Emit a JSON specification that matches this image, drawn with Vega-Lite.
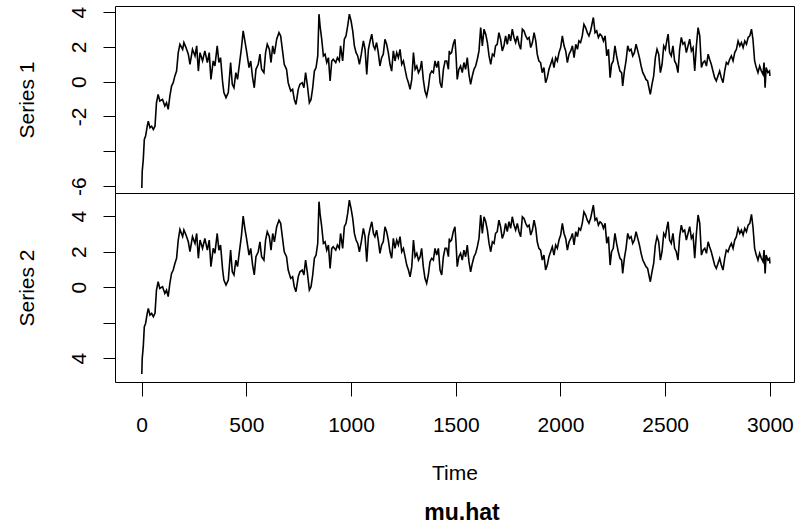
{
  "$schema": "https://vega.github.io/schema/vega-lite/v6.json",
  "autosize": {"type": "pad"},
  "padding": {"left": 15, "top": 5, "right": 10, "bottom": 0},
  "background": "white",
  "spacing": 0,
  "bounds": "flush",
  "title": {"text": "mu.hat", "orient": "bottom", "anchor": "middle", "font": "Liberation Sans", "fontSize": 23, "fontWeight": "bold", "color": "#000", "baseline": "alphabetic", "offset": 36, "dx": 57},
  "datasets": {
    "mu": [
      {"t":1,"s1":-6.11,"s2":-4.9},{"t":3,"s1":-5.15,"s2":-4.02},{"t":8,"s1":-4.48,"s2":-3.36},{"t":13,"s1":-3.32,"s2":-2.23},{"t":19,"s1":-3.13,"s2":-2.05},{"t":27,"s1":-2.56,"s2":-1.48},{"t":32,"s1":-2.27,"s2":-1.2},{"t":40,"s1":-2.65,"s2":-1.58},{"t":48,"s1":-2.56,"s2":-1.48},{"t":56,"s1":-2.75,"s2":-1.67},
      {"t":64,"s1":-2.56,"s2":-1.48},{"t":71,"s1":-1.21,"s2":-0.17},{"t":79,"s1":-0.73,"s2":0.3},{"t":87,"s1":-1.11,"s2":-0.08},{"t":100,"s1":-1.02,"s2":0.02},{"t":111,"s1":-1.4,"s2":-0.36},{"t":119,"s1":-1.21,"s2":-0.17},{"t":127,"s1":-1.59,"s2":-0.54},{"t":135,"s1":-0.83,"s2":0.21},{"t":143,"s1":-0.25,"s2":0.77},
      {"t":151,"s1":-0.06,"s2":0.96},{"t":159,"s1":0.33,"s2":1.33},{"t":167,"s1":0.61,"s2":1.62},{"t":175,"s1":1.67,"s2":2.65},{"t":183,"s1":2.15,"s2":3.25},{"t":196,"s1":1.86,"s2":2.84},{"t":202,"s1":2.25,"s2":3.21},{"t":212,"s1":1.96,"s2":2.93},{"t":223,"s1":1.58,"s2":2.55},{"t":231,"s1":1.0,"s2":1.99},
      {"t":243,"s1":1.86,"s2":2.84},{"t":255,"s1":1.48,"s2":2.46},{"t":263,"s1":2.06,"s2":3.02},{"t":271,"s1":0.61,"s2":1.62},{"t":279,"s1":1.67,"s2":2.65},{"t":291,"s1":1.19,"s2":2.18},{"t":302,"s1":1.77,"s2":2.74},{"t":314,"s1":1.1,"s2":2.08},{"t":323,"s1":1.67,"s2":2.65},{"t":331,"s1":0.13,"s2":1.15},
      {"t":342,"s1":1.19,"s2":2.18},{"t":350,"s1":0.9,"s2":1.9},{"t":361,"s1":2.06,"s2":3.02},{"t":369,"s1":1.1,"s2":2.08},{"t":377,"s1":1.38,"s2":2.37},{"t":387,"s1":-0.06,"s2":0.96},{"t":393,"s1":-0.63,"s2":0.39},{"t":403,"s1":-0.92,"s2":0.11},{"t":414,"s1":-0.63,"s2":0.39},{"t":425,"s1":1.1,"s2":2.08},
      {"t":433,"s1":-0.15,"s2":0.86},{"t":441,"s1":-0.35,"s2":0.68},{"t":450,"s1":0.52,"s2":1.52},{"t":458,"s1":0.13,"s2":1.15},{"t":466,"s1":0.9,"s2":1.9},{"t":477,"s1":1.96,"s2":2.93},{"t":485,"s1":2.92,"s2":4.0},{"t":493,"s1":2.34,"s2":3.31},{"t":501,"s1":1.77,"s2":2.74},{"t":513,"s1":0.81,"s2":1.8},
      {"t":521,"s1":1.19,"s2":2.18},{"t":530,"s1":0.23,"s2":1.24},{"t":538,"s1":-0.35,"s2":0.68},{"t":546,"s1":0.71,"s2":1.71},{"t":557,"s1":1.0,"s2":1.99},{"t":565,"s1":1.58,"s2":2.55},{"t":573,"s1":0.71,"s2":1.71},{"t":584,"s1":0.52,"s2":1.52},{"t":592,"s1":1.67,"s2":2.65},{"t":600,"s1":2.15,"s2":3.12},
      {"t":610,"s1":1.86,"s2":2.84},{"t":618,"s1":1.1,"s2":2.08},{"t":626,"s1":2.06,"s2":3.02},{"t":634,"s1":1.58,"s2":2.55},{"t":645,"s1":2.44,"s2":3.4},{"t":656,"s1":2.82,"s2":3.77},{"t":664,"s1":2.63,"s2":3.59},{"t":673,"s1":1.77,"s2":2.74},{"t":681,"s1":1.0,"s2":1.99},{"t":692,"s1":0.71,"s2":1.71},
      {"t":700,"s1":-0.06,"s2":0.96},{"t":712,"s1":-0.54,"s2":0.49},{"t":721,"s1":-0.44,"s2":0.58},{"t":729,"s1":-1.02,"s2":0.02},{"t":737,"s1":-1.31,"s2":-0.26},{"t":748,"s1":-0.44,"s2":0.58},{"t":756,"s1":-0.15,"s2":0.86},{"t":767,"s1":-0.06,"s2":0.96},{"t":775,"s1":-0.35,"s2":0.68},{"t":783,"s1":0.52,"s2":1.52},
      {"t":791,"s1":-0.15,"s2":0.86},{"t":801,"s1":-1.21,"s2":-0.17},{"t":809,"s1":-1.02,"s2":0.02},{"t":817,"s1":-0.35,"s2":0.68},{"t":825,"s1":0.61,"s2":1.62},{"t":833,"s1":0.81,"s2":1.8},{"t":841,"s1":1.48,"s2":2.46},{"t":847,"s1":3.88,"s2":4.81},{"t":852,"s1":3.21,"s2":4.15},{"t":860,"s1":2.44,"s2":3.4},
      {"t":868,"s1":1.48,"s2":2.46},{"t":876,"s1":1.58,"s2":2.55},{"t":884,"s1":1.1,"s2":2.08},{"t":892,"s1":1.38,"s2":2.37},{"t":900,"s1":0.04,"s2":1.05},{"t":908,"s1":1.19,"s2":2.18},{"t":915,"s1":1.29,"s2":2.27},{"t":927,"s1":1.1,"s2":2.08},{"t":935,"s1":1.38,"s2":2.37},{"t":944,"s1":1.19,"s2":2.18},
      {"t":950,"s1":2.06,"s2":3.02},{"t":960,"s1":1.19,"s2":2.18},{"t":968,"s1":2.44,"s2":3.4},{"t":976,"s1":2.63,"s2":3.59},{"t":984,"s1":3.21,"s2":4.15},{"t":992,"s1":3.88,"s2":4.9},{"t":1000,"s1":3.5,"s2":4.43},{"t":1008,"s1":2.92,"s2":3.87},{"t":1016,"s1":2.06,"s2":3.02},{"t":1024,"s1":1.67,"s2":2.65},
      {"t":1032,"s1":1.48,"s2":2.46},{"t":1040,"s1":1.0,"s2":1.99},{"t":1049,"s1":1.58,"s2":2.55},{"t":1059,"s1":2.34,"s2":3.31},{"t":1067,"s1":1.86,"s2":2.84},{"t":1075,"s1":0.42,"s2":1.43},{"t":1083,"s1":1.86,"s2":2.84},{"t":1091,"s1":2.34,"s2":3.31},{"t":1099,"s1":2.73,"s2":3.68},{"t":1107,"s1":2.06,"s2":3.02},
      {"t":1114,"s1":1.86,"s2":2.84},{"t":1122,"s1":2.25,"s2":3.21},{"t":1130,"s1":1.67,"s2":2.65},{"t":1138,"s1":0.9,"s2":1.9},{"t":1146,"s1":1.38,"s2":2.37},{"t":1154,"s1":1.58,"s2":2.55},{"t":1162,"s1":2.44,"s2":3.4},{"t":1170,"s1":2.15,"s2":3.12},{"t":1178,"s1":1.67,"s2":2.65},{"t":1186,"s1":1.0,"s2":1.99},
      {"t":1194,"s1":0.61,"s2":1.62},{"t":1202,"s1":1.77,"s2":2.74},{"t":1210,"s1":1.19,"s2":2.18},{"t":1218,"s1":1.67,"s2":2.65},{"t":1226,"s1":1.38,"s2":2.37},{"t":1234,"s1":1.86,"s2":2.84},{"t":1242,"s1":1.0,"s2":1.99},{"t":1250,"s1":1.19,"s2":2.18},{"t":1258,"s1":0.71,"s2":1.71},{"t":1266,"s1":0.23,"s2":1.24},
      {"t":1274,"s1":-0.06,"s2":0.96},{"t":1282,"s1":-0.44,"s2":0.58},{"t":1290,"s1":0.13,"s2":1.15},{"t":1298,"s1":1.67,"s2":2.65},{"t":1306,"s1":0.71,"s2":1.71},{"t":1314,"s1":0.9,"s2":1.9},{"t":1322,"s1":0.52,"s2":1.52},{"t":1330,"s1":0.71,"s2":1.71},{"t":1337,"s1":1.19,"s2":2.18},{"t":1345,"s1":0.13,"s2":1.15},
      {"t":1353,"s1":-0.54,"s2":0.49},{"t":1361,"s1":-0.83,"s2":0.21},{"t":1369,"s1":-0.35,"s2":0.68},{"t":1377,"s1":0.42,"s2":1.43},{"t":1385,"s1":0.61,"s2":1.62},{"t":1393,"s1":0.52,"s2":1.52},{"t":1401,"s1":1.19,"s2":2.18},{"t":1409,"s1":0.81,"s2":1.8},{"t":1417,"s1":1.19,"s2":2.18},{"t":1425,"s1":-0.06,"s2":0.96},
      {"t":1433,"s1":-0.35,"s2":0.68},{"t":1441,"s1":0.71,"s2":1.71},{"t":1449,"s1":1.19,"s2":2.18},{"t":1457,"s1":1.19,"s2":2.18},{"t":1465,"s1":0.71,"s2":1.71},{"t":1469,"s1":1.77,"s2":2.74},{"t":1472,"s1":1.58,"s2":2.55},{"t":1480,"s1":1.67,"s2":2.65},{"t":1488,"s1":2.15,"s2":3.12},{"t":1496,"s1":2.44,"s2":3.4},
      {"t":1501,"s1":1.58,"s2":2.55},{"t":1507,"s1":0.13,"s2":1.15},{"t":1515,"s1":0.71,"s2":1.71},{"t":1523,"s1":0.9,"s2":1.9},{"t":1531,"s1":0.52,"s2":1.52},{"t":1539,"s1":1.1,"s2":2.08},{"t":1547,"s1":0.71,"s2":1.71},{"t":1555,"s1":1.38,"s2":2.37},{"t":1563,"s1":0.42,"s2":1.43},{"t":1571,"s1":-0.15,"s2":0.86},
      {"t":1579,"s1":0.33,"s2":1.33},{"t":1587,"s1":0.71,"s2":1.71},{"t":1595,"s1":0.9,"s2":1.9},{"t":1603,"s1":1.29,"s2":2.27},{"t":1611,"s1":1.77,"s2":2.74},{"t":1619,"s1":3.11,"s2":4.06},{"t":1627,"s1":2.06,"s2":3.02},{"t":1635,"s1":3.02,"s2":3.96},{"t":1643,"s1":2.73,"s2":3.68},{"t":1651,"s1":2.25,"s2":3.21},
      {"t":1659,"s1":1.48,"s2":2.46},{"t":1667,"s1":1.0,"s2":1.99},{"t":1675,"s1":1.58,"s2":2.55},{"t":1683,"s1":1.48,"s2":2.46},{"t":1690,"s1":2.06,"s2":3.02},{"t":1698,"s1":2.15,"s2":3.12},{"t":1706,"s1":2.82,"s2":3.77},{"t":1714,"s1":2.44,"s2":3.4},{"t":1722,"s1":1.77,"s2":2.74},{"t":1730,"s1":2.06,"s2":3.02},
      {"t":1738,"s1":2.63,"s2":3.59},{"t":1746,"s1":2.15,"s2":3.12},{"t":1754,"s1":2.73,"s2":3.68},{"t":1762,"s1":2.34,"s2":3.31},{"t":1770,"s1":3.02,"s2":3.96},{"t":1778,"s1":2.54,"s2":3.49},{"t":1786,"s1":2.25,"s2":3.21},{"t":1794,"s1":2.63,"s2":3.59},{"t":1802,"s1":2.15,"s2":3.12},{"t":1810,"s1":1.86,"s2":2.84},
      {"t":1818,"s1":3.02,"s2":3.96},{"t":1826,"s1":2.92,"s2":3.87},{"t":1834,"s1":2.63,"s2":3.59},{"t":1842,"s1":2.44,"s2":3.4},{"t":1850,"s1":2.54,"s2":3.49},{"t":1858,"s1":1.96,"s2":2.93},{"t":1866,"s1":2.25,"s2":3.21},{"t":1874,"s1":2.82,"s2":3.77},{"t":1882,"s1":2.34,"s2":3.31},{"t":1889,"s1":1.58,"s2":2.55},
      {"t":1897,"s1":1.19,"s2":2.18},{"t":1905,"s1":1.1,"s2":2.08},{"t":1913,"s1":0.52,"s2":1.52},{"t":1921,"s1":0.81,"s2":1.8},{"t":1929,"s1":-0.06,"s2":0.96},{"t":1937,"s1":0.23,"s2":1.24},{"t":1945,"s1":0.71,"s2":1.71},{"t":1953,"s1":1.0,"s2":1.99},{"t":1961,"s1":1.29,"s2":2.27},{"t":1969,"s1":0.81,"s2":1.8},
      {"t":1977,"s1":1.38,"s2":2.37},{"t":1985,"s1":1.19,"s2":2.18},{"t":1993,"s1":1.67,"s2":2.65},{"t":2001,"s1":1.96,"s2":2.93},{"t":2009,"s1":2.63,"s2":3.59},{"t":2017,"s1":2.06,"s2":3.02},{"t":2025,"s1":1.77,"s2":2.74},{"t":2033,"s1":1.1,"s2":2.08},{"t":2041,"s1":1.58,"s2":2.55},{"t":2049,"s1":1.77,"s2":2.74},
      {"t":2057,"s1":2.06,"s2":3.02},{"t":2065,"s1":1.38,"s2":2.37},{"t":2073,"s1":2.15,"s2":3.12},{"t":2081,"s1":1.86,"s2":2.84},{"t":2088,"s1":2.34,"s2":3.31},{"t":2096,"s1":2.25,"s2":3.21},{"t":2104,"s1":2.63,"s2":3.59},{"t":2112,"s1":3.3,"s2":4.24},{"t":2120,"s1":3.11,"s2":4.06},{"t":2128,"s1":2.82,"s2":3.77},
      {"t":2136,"s1":2.63,"s2":3.59},{"t":2144,"s1":2.92,"s2":3.87},{"t":2152,"s1":3.4,"s2":4.34},{"t":2157,"s1":3.69,"s2":4.62},{"t":2165,"s1":2.82,"s2":3.77},{"t":2173,"s1":2.92,"s2":3.87},{"t":2181,"s1":2.54,"s2":3.49},{"t":2189,"s1":2.73,"s2":3.68},{"t":2197,"s1":2.63,"s2":3.59},{"t":2205,"s1":2.34,"s2":3.31},
      {"t":2213,"s1":2.63,"s2":3.59},{"t":2221,"s1":1.48,"s2":2.46},{"t":2229,"s1":1.86,"s2":2.84},{"t":2237,"s1":0.23,"s2":1.24},{"t":2244,"s1":1.0,"s2":1.99},{"t":2252,"s1":1.19,"s2":2.18},{"t":2260,"s1":2.06,"s2":3.02},{"t":2268,"s1":1.48,"s2":2.46},{"t":2276,"s1":1.0,"s2":1.99},{"t":2284,"s1":0.61,"s2":1.62},
      {"t":2292,"s1":0.52,"s2":1.52},{"t":2297,"s1":-0.25,"s2":0.77},{"t":2305,"s1":0.61,"s2":1.62},{"t":2313,"s1":1.19,"s2":2.18},{"t":2321,"s1":2.06,"s2":3.02},{"t":2329,"s1":1.77,"s2":2.74},{"t":2337,"s1":1.86,"s2":2.84},{"t":2345,"s1":1.48,"s2":2.46},{"t":2353,"s1":1.67,"s2":2.65},{"t":2361,"s1":2.15,"s2":3.12},
      {"t":2369,"s1":1.77,"s2":2.74},{"t":2377,"s1":1.38,"s2":2.37},{"t":2385,"s1":0.9,"s2":1.9},{"t":2393,"s1":0.52,"s2":1.52},{"t":2401,"s1":0.33,"s2":1.33},{"t":2408,"s1":0.13,"s2":1.15},{"t":2416,"s1":0.04,"s2":1.05},{"t":2424,"s1":-0.44,"s2":0.58},{"t":2429,"s1":-0.73,"s2":0.3},{"t":2437,"s1":-0.15,"s2":0.86},
      {"t":2445,"s1":0.33,"s2":1.33},{"t":2453,"s1":1.38,"s2":2.37},{"t":2461,"s1":1.86,"s2":2.84},{"t":2469,"s1":1.58,"s2":2.55},{"t":2477,"s1":0.52,"s2":1.52},{"t":2485,"s1":1.0,"s2":1.99},{"t":2493,"s1":2.06,"s2":3.02},{"t":2501,"s1":1.86,"s2":2.84},{"t":2509,"s1":2.44,"s2":3.4},{"t":2514,"s1":2.73,"s2":3.68},
      {"t":2521,"s1":1.67,"s2":2.65},{"t":2529,"s1":1.48,"s2":2.46},{"t":2537,"s1":2.06,"s2":3.02},{"t":2545,"s1":1.19,"s2":2.18},{"t":2553,"s1":1.0,"s2":1.99},{"t":2561,"s1":0.52,"s2":1.52},{"t":2569,"s1":1.86,"s2":2.84},{"t":2577,"s1":2.54,"s2":3.49},{"t":2585,"s1":2.15,"s2":3.12},{"t":2593,"s1":2.25,"s2":3.21},
      {"t":2601,"s1":1.67,"s2":2.65},{"t":2609,"s1":2.06,"s2":3.02},{"t":2617,"s1":2.44,"s2":3.4},{"t":2625,"s1":1.77,"s2":2.74},{"t":2633,"s1":1.96,"s2":2.93},{"t":2641,"s1":0.61,"s2":1.62},{"t":2649,"s1":2.06,"s2":3.02},{"t":2657,"s1":3.11,"s2":4.06},{"t":2665,"s1":2.63,"s2":3.59},{"t":2673,"s1":0.81,"s2":1.8},
      {"t":2681,"s1":1.1,"s2":2.08},{"t":2689,"s1":1.19,"s2":2.18},{"t":2697,"s1":0.9,"s2":1.9},{"t":2705,"s1":1.58,"s2":2.55},{"t":2712,"s1":1.29,"s2":2.27},{"t":2720,"s1":1.0,"s2":1.99},{"t":2728,"s1":0.61,"s2":1.62},{"t":2736,"s1":0.23,"s2":1.24},{"t":2744,"s1":0.04,"s2":1.05},{"t":2752,"s1":0.33,"s2":1.33},
      {"t":2760,"s1":0.61,"s2":1.62},{"t":2768,"s1":0.23,"s2":1.24},{"t":2776,"s1":-0.06,"s2":0.96},{"t":2784,"s1":0.61,"s2":1.62},{"t":2792,"s1":1.1,"s2":2.08},{"t":2800,"s1":1.0,"s2":1.99},{"t":2808,"s1":1.29,"s2":2.27},{"t":2816,"s1":1.48,"s2":2.46},{"t":2824,"s1":1.19,"s2":2.18},{"t":2832,"s1":1.67,"s2":2.65},
      {"t":2840,"s1":1.86,"s2":2.84},{"t":2848,"s1":2.34,"s2":3.31},{"t":2856,"s1":2.06,"s2":3.02},{"t":2864,"s1":2.25,"s2":3.21},{"t":2872,"s1":1.96,"s2":2.93},{"t":2880,"s1":2.34,"s2":3.31},{"t":2888,"s1":2.15,"s2":3.12},{"t":2896,"s1":2.54,"s2":3.49},{"t":2904,"s1":2.63,"s2":3.59},{"t":2912,"s1":3.02,"s2":4.1},
      {"t":2919,"s1":2.44,"s2":3.4},{"t":2927,"s1":1.19,"s2":2.18},{"t":2935,"s1":0.81,"s2":1.8},{"t":2943,"s1":0.52,"s2":1.52},{"t":2951,"s1":0.9,"s2":1.9},{"t":2959,"s1":0.61,"s2":1.62},{"t":2967,"s1":0.42,"s2":1.43},{"t":2972,"s1":1.1,"s2":2.08},{"t":2977,"s1":-0.35,"s2":0.77},{"t":2982,"s1":0.81,"s2":1.8},
      {"t":2990,"s1":0.52,"s2":1.52},{"t":2998,"s1":0.61,"s2":1.62},{"t":3000,"s1":0.33,"s2":1.33}
    ]
  },
  "data": {"name": "mu"},
  "vconcat": [
    {
      "width": 679,
      "height": 187,
      "mark": {"type": "line", "color": "#000", "strokeWidth": 1.6, "clip": true},
      "encoding": {
        "x": {"field": "t", "type": "quantitative", "scale": {"domain": [-127, 3115], "nice": false, "zero": false}, "axis": null},
        "y": {"field": "s1", "type": "quantitative", "scale": {"domain": [-6.4, 4.35], "nice": false, "zero": false},
          "axis": {"title": "Series 1", "values": [-6, -4, -2, 0, 2, 4], "labelExpr": "datum.value == -4 ? '' : '' + datum.value", "titleY": 93.5}}
      }
    },
    {
      "width": 679,
      "height": 189,
      "mark": {"type": "line", "color": "#000", "strokeWidth": 1.6, "clip": true},
      "encoding": {
        "x": {"field": "t", "type": "quantitative", "scale": {"domain": [-127, 3115], "nice": false, "zero": false},
          "axis": {"title": "Time", "values": [0, 500, 1000, 1500, 2000, 2500, 3000], "format": "d", "orient": "bottom", "tickSize": 14, "labelPadding": 35, "labelBaseline": "alphabetic", "labelAngle": 0, "labelAlign": "center", "titleBaseline": "alphabetic", "titleX": 339.5, "titleY": 97, "titleAlign": "center"}},
        "y": {"field": "s2", "type": "quantitative", "scale": {"domain": [-5.35, 5.3], "nice": false, "zero": false},
          "axis": {"title": "Series 2", "values": [-4, -2, 0, 2, 4], "labelExpr": "datum.value == -2 ? '' : datum.value == -4 ? '4' : '' + datum.value", "titleY": 94.5}}
      }
    }
  ],
  "config": {
    "font": "Liberation Sans",
    "view": {"stroke": "#000", "strokeWidth": 1},
    "axis": {
      "domain": false, "grid": false, "ticks": true, "tickColor": "#000", "tickWidth": 1,
      "labelFont": "Liberation Sans", "labelFontSize": 21, "labelColor": "#000",
      "titleFont": "Liberation Sans", "titleFontSize": 21, "titleFontWeight": "normal", "titleColor": "#000",
      "labelOverlap": false, "labelFlush": false, "labelBound": false
    },
    "axisLeft": {
      "tickSize": 12, "labelPadding": 18, "labelAngle": 270, "labelAlign": "center", "labelBaseline": "alphabetic",
      "titleAngle": 270, "titleX": -82, "titleBaseline": "alphabetic", "titleAlign": "center"
    }
  }
}
